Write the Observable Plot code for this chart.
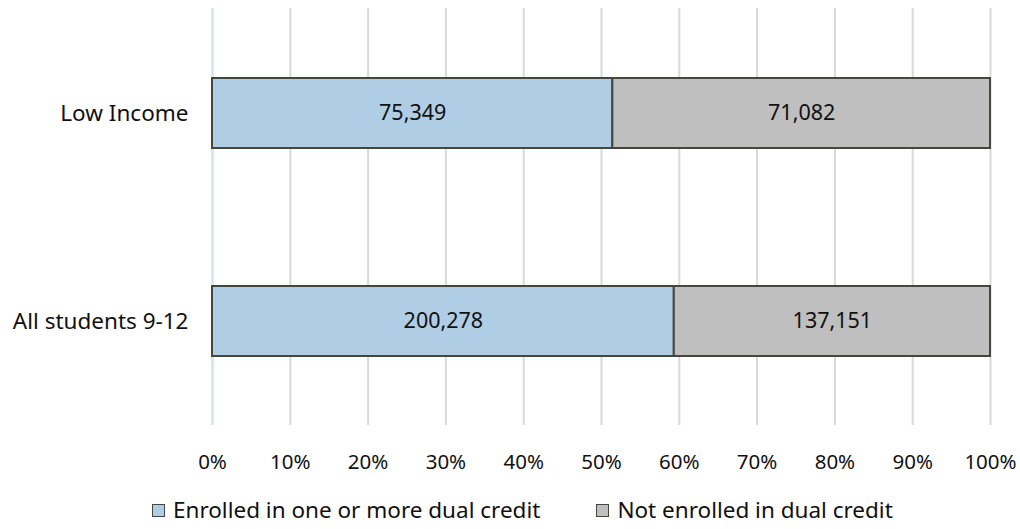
<!DOCTYPE html>
<html>
<head>
<meta charset="utf-8">
<script src="https://cdn.jsdelivr.net/npm/d3@7"></script>
<script src="https://cdn.jsdelivr.net/npm/@observablehq/plot@0.6"></script>
<style>
  html, body { margin: 0; padding: 0; background: #fff; }
  body { width: 1020px; height: 529px; overflow: hidden; font-family: "Noto Sans", "Open Sans", sans-serif; }
  #legend { display: flex; gap: 56px; font-size: 22.5px; color: #111; margin-top: 15px; padding-left: 152px; width: 1020px; box-sizing: border-box; justify-content: flex-start; line-height: 1; }
  .item { display: flex; align-items: center; gap: 8px; }
  .sw { width: 13px; height: 13px; border: 1.5px solid #45463d; box-sizing: border-box; display: inline-block; }
  g[aria-label="y-axis tick label"] text { font-size: 22.5px; }
  g[aria-label="x-axis tick label"] text { font-size: 20.5px; }
</style>
</head>
<body>
<div id="chart"></div>
<div id="legend"></div>
<script>
const groups = ["Low Income", "All students 9-12"];
const series = ["Enrolled in one or more dual credit", "Not enrolled in dual credit"];
const enrolled = [75349, 200278];
const notEnrolled = [71082, 137151];
const colors = ["#b0cde6", "#bfbfbf"];
const xTicks = [0, 0.1, 0.2, 0.3, 0.4, 0.5, 0.6, 0.7, 0.8, 0.9, 1];

const data = [];
groups.forEach((g, i) => {
  data.push({group: g, series: series[0], value: enrolled[i]});
  data.push({group: g, series: series[1], value: notEnrolled[i]});
});

const fmt = d3.format(",");

const chart = Plot.plot({
  width: 1020,
  height: 484,
  marginLeft: 212,
  marginRight: 30,
  marginTop: 8,
  marginBottom: 59,
  style: {fontFamily: "'Noto Sans', 'Open Sans', sans-serif", color: "#111"},
  x: {domain: [0, 1], label: null},
  y: {domain: groups, paddingInner: 0.665, paddingOuter: 0.333, label: null},
  color: {domain: series, range: colors},
  marks: [
    Plot.gridX(xTicks, {stroke: "#d9d9d9", strokeOpacity: 1, strokeWidth: 2}),
    Plot.ruleX([0], {stroke: "#d3e2ef", strokeWidth: 2}),
    Plot.barX(data, Plot.stackX({x: "value", y: "group", fill: "series", z: "series", order: series, offset: "normalize", stroke: "#45463d", strokeWidth: 2})),
    Plot.text(data, Plot.stackX({x: "value", y: "group", z: "series", order: series, offset: "normalize", text: d => fmt(d.value), fill: "#111", fontSize: 21.5})),
    Plot.axisX(xTicks, {tickFormat: d3.format(".0%"), tickSize: 0, tickPadding: 29}),
    Plot.axisY({tickSize: 0, tickPadding: 24})
  ]
});
document.getElementById("chart").appendChild(chart);

const legend = document.getElementById("legend");
series.forEach((s, i) => {
  const item = document.createElement("div");
  item.className = "item";
  const sw = document.createElement("span");
  sw.className = "sw";
  sw.style.background = colors[i];
  const t = document.createElement("span");
  t.textContent = s;
  item.appendChild(sw);
  item.appendChild(t);
  legend.appendChild(item);
});
</script>
</body>
</html>
